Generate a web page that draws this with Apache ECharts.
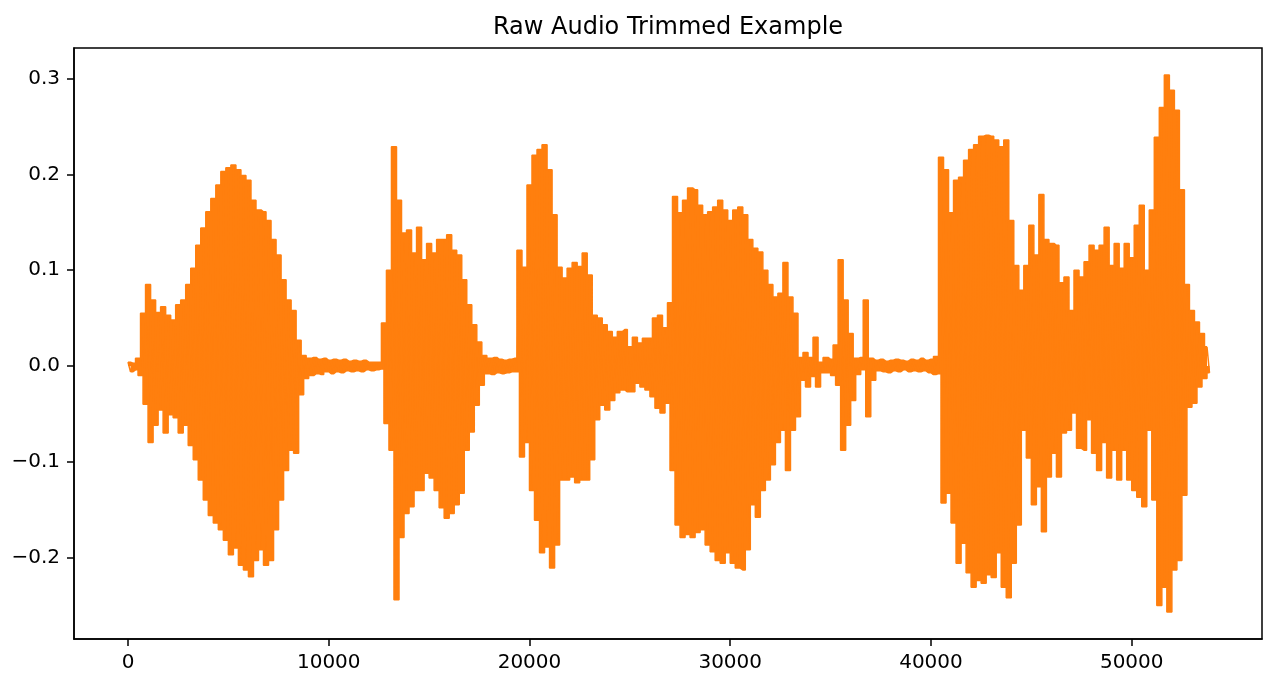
<!DOCTYPE html>
<html>
<head>
<meta charset="utf-8">
<script src="https://cdn.jsdelivr.net/npm/echarts@6/dist/echarts.min.js"></script>
<style>
html,body{margin:0;padding:0;background:#fff;}
#chart{width:1267px;height:678px;}
</style>
</head>
<body>
<div id="chart"></div>
<script>
// waveform envelope, one value every 250 samples
var step = 250;
var upper = [
0.004,0.003,0.008,0.055,0.085,0.069,0.056,0.062,0.053,0.048,
0.064,0.069,0.085,0.102,0.126,0.144,0.161,0.175,0.189,0.203,
0.207,0.210,0.205,0.199,0.194,0.173,0.163,0.161,0.152,0.132,
0.116,0.090,0.069,0.058,0.027,0.011,0.008,0.009,0.007,0.008,
0.006,0.007,0.006,0.007,0.005,0.006,0.005,0.006,0.004,0.004,
0.004,0.045,0.100,0.229,0.173,0.139,0.142,0.118,0.145,0.111,
0.128,0.118,0.132,0.132,0.137,0.121,0.116,0.090,0.064,0.043,
0.025,0.011,0.008,0.009,0.007,0.006,0.007,0.008,0.121,0.103,
0.189,0.220,0.226,0.231,0.205,0.158,0.103,0.092,0.102,0.108,
0.104,0.118,0.095,0.053,0.050,0.043,0.036,0.030,0.036,0.038,
0.020,0.030,0.024,0.029,0.029,0.050,0.053,0.040,0.066,0.177,
0.160,0.173,0.186,0.184,0.168,0.158,0.161,0.166,0.173,0.163,
0.152,0.163,0.166,0.158,0.132,0.123,0.119,0.100,0.085,0.072,
0.076,0.108,0.072,0.055,0.009,0.014,0.009,0.030,0.004,0.009,
0.007,0.022,0.111,0.069,0.034,0.008,0.009,0.069,0.008,0.006,
0.007,0.005,0.006,0.007,0.006,0.005,0.007,0.006,0.008,0.006,
0.007,0.010,0.218,0.205,0.160,0.194,0.197,0.215,0.226,0.231,
0.240,0.241,0.240,0.236,0.229,0.236,0.152,0.105,0.079,0.105,
0.147,0.116,0.179,0.132,0.128,0.126,0.087,0.093,0.058,0.100,
0.093,0.109,0.126,0.121,0.126,0.145,0.105,0.128,0.102,0.128,
0.113,0.147,0.168,0.100,0.163,0.239,0.270,0.304,0.288,0.267,
0.184,0.085,0.058,0.046,0.034,0.020
];
var lower = [
-0.006,-0.004,-0.010,-0.040,-0.080,-0.062,-0.046,-0.070,-0.051,-0.054,
-0.070,-0.062,-0.083,-0.098,-0.119,-0.140,-0.156,-0.164,-0.171,-0.182,
-0.197,-0.190,-0.208,-0.213,-0.220,-0.203,-0.192,-0.208,-0.203,-0.171,
-0.140,-0.109,-0.088,-0.091,-0.030,-0.013,-0.010,-0.008,-0.009,-0.006,
-0.008,-0.006,-0.007,-0.005,-0.006,-0.005,-0.006,-0.004,-0.005,-0.004,
-0.003,-0.060,-0.088,-0.244,-0.179,-0.154,-0.147,-0.130,-0.130,-0.112,
-0.117,-0.130,-0.148,-0.159,-0.154,-0.145,-0.133,-0.088,-0.069,-0.041,
-0.020,-0.008,-0.009,-0.007,-0.008,-0.007,-0.006,-0.006,-0.095,-0.080,
-0.130,-0.161,-0.195,-0.189,-0.211,-0.187,-0.119,-0.119,-0.116,-0.122,
-0.119,-0.119,-0.098,-0.056,-0.041,-0.046,-0.036,-0.028,-0.025,-0.027,
-0.027,-0.018,-0.022,-0.025,-0.032,-0.044,-0.049,-0.039,-0.109,-0.166,
-0.179,-0.176,-0.179,-0.174,-0.171,-0.187,-0.194,-0.203,-0.206,-0.195,
-0.206,-0.211,-0.213,-0.192,-0.145,-0.158,-0.130,-0.119,-0.103,-0.080,
-0.067,-0.109,-0.067,-0.053,-0.015,-0.022,-0.011,-0.022,-0.007,-0.007,
-0.010,-0.020,-0.088,-0.062,-0.036,-0.009,-0.004,-0.053,-0.015,-0.005,
-0.006,-0.007,-0.005,-0.006,-0.004,-0.006,-0.005,-0.006,-0.005,-0.007,
-0.009,-0.008,-0.143,-0.133,-0.164,-0.206,-0.185,-0.216,-0.231,-0.224,
-0.227,-0.218,-0.221,-0.195,-0.231,-0.242,-0.206,-0.166,-0.067,-0.096,
-0.145,-0.126,-0.173,-0.116,-0.091,-0.116,-0.070,-0.067,-0.049,-0.086,
-0.088,-0.056,-0.091,-0.109,-0.080,-0.117,-0.088,-0.119,-0.088,-0.119,
-0.130,-0.137,-0.147,-0.067,-0.140,-0.250,-0.231,-0.257,-0.213,-0.203,
-0.135,-0.043,-0.039,-0.022,-0.013,-0.007
];
var xTicks = [0, 10000, 20000, 30000, 40000, 50000];
var yTicks = [-0.2, -0.1, 0.0, 0.1, 0.2, 0.3];

// top and bottom outlines (stepped, like dense samples) plus a zigzag between them
var top_ = [], bottom_ = [], wave = [];
for (var i = 0; i < upper.length; i++) {
  top_.push([i * step, upper[i]]);
  bottom_.push([i * step + step / 2, lower[i]]);
  wave.push([i * step, upper[i]]);
  wave.push([i * step + step / 2, lower[i]]);
}

var font = 'DejaVu Sans';
var orange = '#ff7f0e';
var option = {
  animation: false,
  title: {
    text: 'Raw Audio Trimmed Example',
    left: 668,
    textAlign: 'center',
    top: 16,
    padding: 0,
    textStyle: {fontFamily: font, fontSize: 24, fontWeight: 'normal', color: '#000'}
  },
  grid: {
    left: 74, right: 5, top: 48, bottom: 39,
    show: true, borderColor: '#000', borderWidth: 1.5, backgroundColor: 'transparent'
  },
  xAxis: {
    type: 'value',
    min: -2690, max: 56490,
    splitLine: {show: false},
    axisLine: {show: true, onZero: false, lineStyle: {color: '#000', width: 1.5}},
    axisTick: {show: true, inside: false, length: 7, customValues: xTicks, lineStyle: {color: '#000', width: 1.5}},
    axisLabel: {
      customValues: xTicks, margin: 14, fontFamily: font, fontSize: 20, color: '#000',
      formatter: function (v) { return String(v); }
    }
  },
  yAxis: {
    type: 'value',
    min: -0.2851, max: 0.3321,
    splitLine: {show: false},
    axisLine: {show: true, onZero: false, lineStyle: {color: '#000', width: 1.5}},
    axisTick: {show: true, inside: false, length: 7, customValues: yTicks, lineStyle: {color: '#000', width: 1.5}},
    axisLabel: {
      customValues: yTicks, margin: 14, fontFamily: font, fontSize: 20, color: '#000',
      formatter: function (v) { return (v < -1e-9 ? '\u2212' : '') + Math.abs(v).toFixed(1); }
    }
  },
  series: [{
    type: 'line',
    data: top_,
    step: 'middle',
    showSymbol: false,
    sampling: null,
    lineStyle: {color: orange, width: 1.5},
    areaStyle: {color: orange, opacity: 1, origin: 0}
  }, {
    type: 'line',
    data: bottom_,
    step: 'middle',
    showSymbol: false,
    sampling: null,
    lineStyle: {color: orange, width: 1.5},
    areaStyle: {color: orange, opacity: 1, origin: 0}
  }, {
    type: 'line',
    data: wave,
    showSymbol: false,
    sampling: null,
    lineStyle: {color: orange, width: 1.5}
  }]
};
echarts.init(document.getElementById('chart')).setOption(option);
</script>
</body>
</html>
